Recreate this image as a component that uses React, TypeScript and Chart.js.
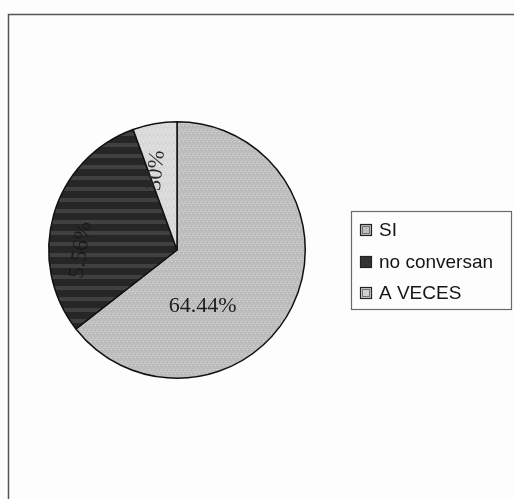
import React, { useEffect, useRef } from "react";
import { Chart, registerables } from "chart.js";

Chart.register(...registerables);

const categories = ["SI", "no conversan", "A VECES"];
const values = [58, 27, 5];
const labelTexts = ["64.44%", "5.56%", "30%"];

function makePattern(bg: string, fg: string, kind: "dots" | "stripes"): CanvasPattern | string {
  const c = document.createElement("canvas");
  const ctx = c.getContext("2d");
  if (!ctx) return bg;
  if (kind === "dots") {
    c.width = 4;
    c.height = 8;
    ctx.fillStyle = bg;
    ctx.fillRect(0, 0, 4, 8);
    ctx.fillStyle = fg;
    ctx.fillRect(1, 1, 1, 1);
    ctx.fillRect(3, 5, 1, 1);
    ctx.globalAlpha = 0.35;
    ctx.fillRect(0, 3, 4, 1);
  } else {
    c.width = 4;
    c.height = 11;
    ctx.fillStyle = bg;
    ctx.fillRect(0, 0, 4, 11);
    ctx.fillStyle = fg;
    ctx.fillRect(0, 0, 4, 4);
  }
  const p = ctx.createPattern(c, "repeat");
  return p || bg;
}

export default function App() {
  const ref = useRef<HTMLCanvasElement>(null);
  useEffect(() => {
    if (!ref.current) return;
    const colors = [
      makePattern("#bcbcbc", "#dcdcdc", "dots"),
      makePattern("#262626", "#404040", "stripes"),
      makePattern("#d8d8d8", "#efefef", "dots"),
    ];
    const legendSwatch = ["#bdbdbd", "#333333", "#d0d0d0"];
    // label positions relative to pie centre, in units of radius
    const labelPos = [
      { dx: 0.2, dy: 0.44, rot: 0, color: "#1e1e1e" },
      { dx: -0.75, dy: 0.0, rot: -82, color: "#1a1a1a" },
      { dx: -0.163, dy: -0.62, rot: -84, color: "#2a2a2a" },
    ];
    const overlay = {
      id: "overlay",
      beforeDraw(chart: any) {
        const ctx = chart.ctx;
        ctx.save();
        ctx.fillStyle = "#fdfdfd";
        ctx.fillRect(0, 0, chart.width, chart.height);
        ctx.strokeStyle = "#555";
        ctx.lineWidth = 1.5;
        ctx.beginPath();
        ctx.moveTo(8.5, 499);
        ctx.lineTo(8.5, 14.5);
        ctx.lineTo(514, 14.5);
        ctx.stroke();
        ctx.restore();
      },
      afterDraw(chart: any) {
        const ctx = chart.ctx;
        const meta = chart.getDatasetMeta(0);
        const arc0 = meta.data[0];
        const cx = arc0.x;
        const cy = arc0.y;
        const r = arc0.outerRadius;
        ctx.save();
        ctx.font = '22px "Liberation Serif", "Times New Roman", serif';
        ctx.textAlign = "center";
        ctx.textBaseline = "middle";
        labelTexts.forEach((t, i) => {
          const p = labelPos[i];
          ctx.save();
          ctx.translate(cx + p.dx * r, cy + p.dy * r);
          ctx.rotate((p.rot * Math.PI) / 180);
          ctx.fillStyle = p.color;
          ctx.fillText(t, 0, 0);
          ctx.restore();
        });
        // legend
        ctx.strokeStyle = "#6a6a6a";
        ctx.lineWidth = 1.2;
        ctx.strokeRect(351.5, 211.5, 160, 98);
        ctx.font = '19px "Liberation Sans", Arial, sans-serif';
        ctx.textAlign = "left";
        ctx.textBaseline = "middle";
        const rowsY = [230, 262, 293];
        categories.forEach((c, i) => {
          const y = rowsY[i];
          ctx.fillStyle = legendSwatch[i];
          ctx.fillRect(360, y - 6, 12, 12);
          ctx.strokeStyle = "#222";
          ctx.lineWidth = 1.2;
          ctx.strokeRect(360.5, y - 5.5, 11, 11);
          if (i !== 1) {
            ctx.strokeStyle = "#777";
            ctx.lineWidth = 1;
            ctx.strokeRect(362.5, y - 3.5, 7, 7);
          }
          ctx.fillStyle = "#151515";
          ctx.fillText(c, 379, y + 1);
        });
        ctx.restore();
      },
    };
    const chart = new Chart(ref.current, {
      type: "pie",
      data: {
        labels: categories,
        datasets: [
          {
            data: values,
            backgroundColor: colors as any,
            borderColor: "#111",
            borderWidth: 1.5,
          },
        ],
      },
      options: {
        responsive: false,
        animation: false,
        layout: { padding: { left: 48, right: 208, top: 121, bottom: 120 } },
        plugins: {
          legend: { display: false },
          tooltip: { enabled: false },
        },
      },
      plugins: [overlay],
    });
    return () => chart.destroy();
  }, []);
  return (
    <div style={{ position: "fixed", left: 0, top: 0, width: 514, height: 499, background: "#fdfdfd" }}>
      <canvas ref={ref} width={514} height={499} style={{ display: "block" }} />
    </div>
  );
}
